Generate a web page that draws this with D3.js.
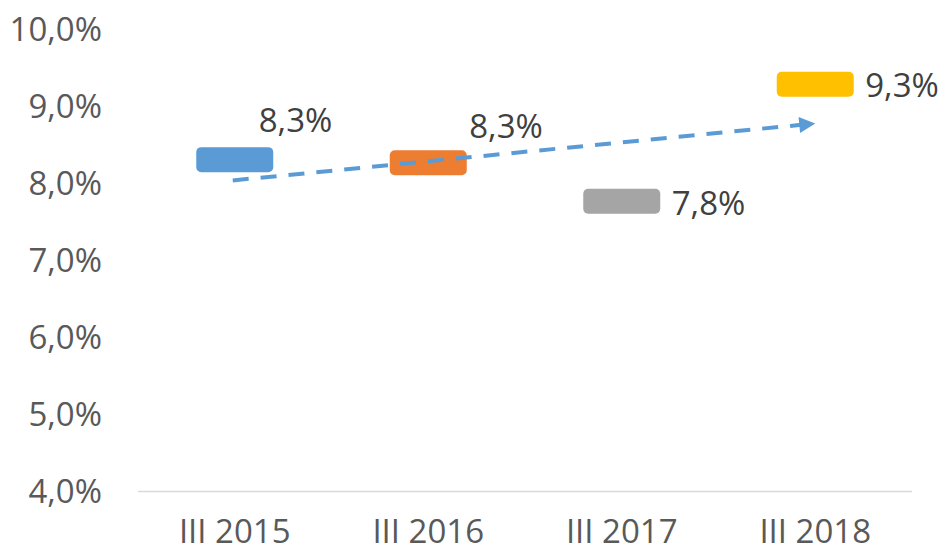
<!DOCTYPE html>
<html>
<head>
<meta charset="utf-8">
<script src="https://cdn.jsdelivr.net/npm/d3@7"></script>
<style>
  body { margin: 0; background: #fff; }
  svg { display: block; font-family: "Open Sans", sans-serif; }
</style>
</head>
<body>
<svg id="chart" width="940" height="553"></svg>
<script>
// data
const categories = ["III 2015", "III 2016", "III 2017", "III 2018"];
const values = [8.31, 8.27, 7.77, 9.29];
const colors = ["#5B9BD5", "#ED7D31", "#A5A5A5", "#FFC000"];
const yTicks = [4, 5, 6, 7, 8, 9, 10];
const trend = [8.04, 8.78]; // linear trend, first and last category
// label offsets from marker centre [dx, dy of baseline]
const labelOffsets = [[24, -28], [41, -25], [50, 14], [50, 13]];

const svg = d3.select("#chart");
const fmt = v => d3.format(".1f")(v).replace(".", ",") + "%";

const x = d3.scaleBand().domain(categories).range([138, 912]).padding(0);
const y = d3.scaleLinear().domain([4, 10]).range([491.5, 29.5]);
const cx = c => x(c) + x.bandwidth() / 2;

// baseline
svg.append("line")
  .attr("x1", 138).attr("x2", 912)
  .attr("y1", y(4)).attr("y2", y(4))
  .attr("stroke", "#d9d9d9").attr("stroke-width", 1.5);

// y tick labels
svg.append("g")
  .selectAll("text")
  .data(yTicks)
  .join("text")
  .attr("x", 102)
  .attr("y", d => y(d))
  .attr("dy", "0.36em")
  .attr("text-anchor", "end")
  .attr("fill", "#595959")
  .attr("font-size", 33)
  .text(d => fmt(d));

// category labels
svg.append("g")
  .selectAll("text")
  .data(categories)
  .join("text")
  .attr("x", d => cx(d))
  .attr("y", 543)
  .attr("text-anchor", "middle")
  .attr("fill", "#595959")
  .attr("font-size", 33)
  .text(d => d);

// markers
svg.append("g")
  .selectAll("rect")
  .data(values)
  .join("rect")
  .attr("x", (d, i) => cx(categories[i]) - 38.5)
  .attr("y", d => y(d) - 12.5)
  .attr("width", 77)
  .attr("height", 25)
  .attr("rx", 5)
  .attr("fill", (d, i) => colors[i]);

// trend line with arrow
svg.append("defs").append("marker")
  .attr("id", "arrow")
  .attr("viewBox", "0 0 10 10")
  .attr("refX", 10).attr("refY", 5)
  .attr("markerWidth", 4.2).attr("markerHeight", 4)
  .attr("markerUnits", "strokeWidth")
  .attr("orient", "auto")
  .append("path")
  .attr("d", "M0,0L10,5L0,10Z")
  .attr("fill", "#5B9BD5");

const x0 = cx(categories[0]) - 2;
const x1 = cx(categories[categories.length - 1]);
svg.append("line")
  .attr("x1", x0).attr("y1", y(trend[0]))
  .attr("x2", x1).attr("y2", y(trend[1]))
  .attr("stroke", "#5B9BD5")
  .attr("stroke-width", 4)
  .attr("stroke-dasharray", "16,12")
  .attr("marker-end", "url(#arrow)");

// data labels
svg.append("g")
  .selectAll("text")
  .data(values)
  .join("text")
  .attr("x", (d, i) => cx(categories[i]) + labelOffsets[i][0])
  .attr("y", (d, i) => y(d) + labelOffsets[i][1])
  .attr("fill", "#404040")
  .attr("font-size", 33)
  .text(d => fmt(d));
</script>
</body>
</html>
